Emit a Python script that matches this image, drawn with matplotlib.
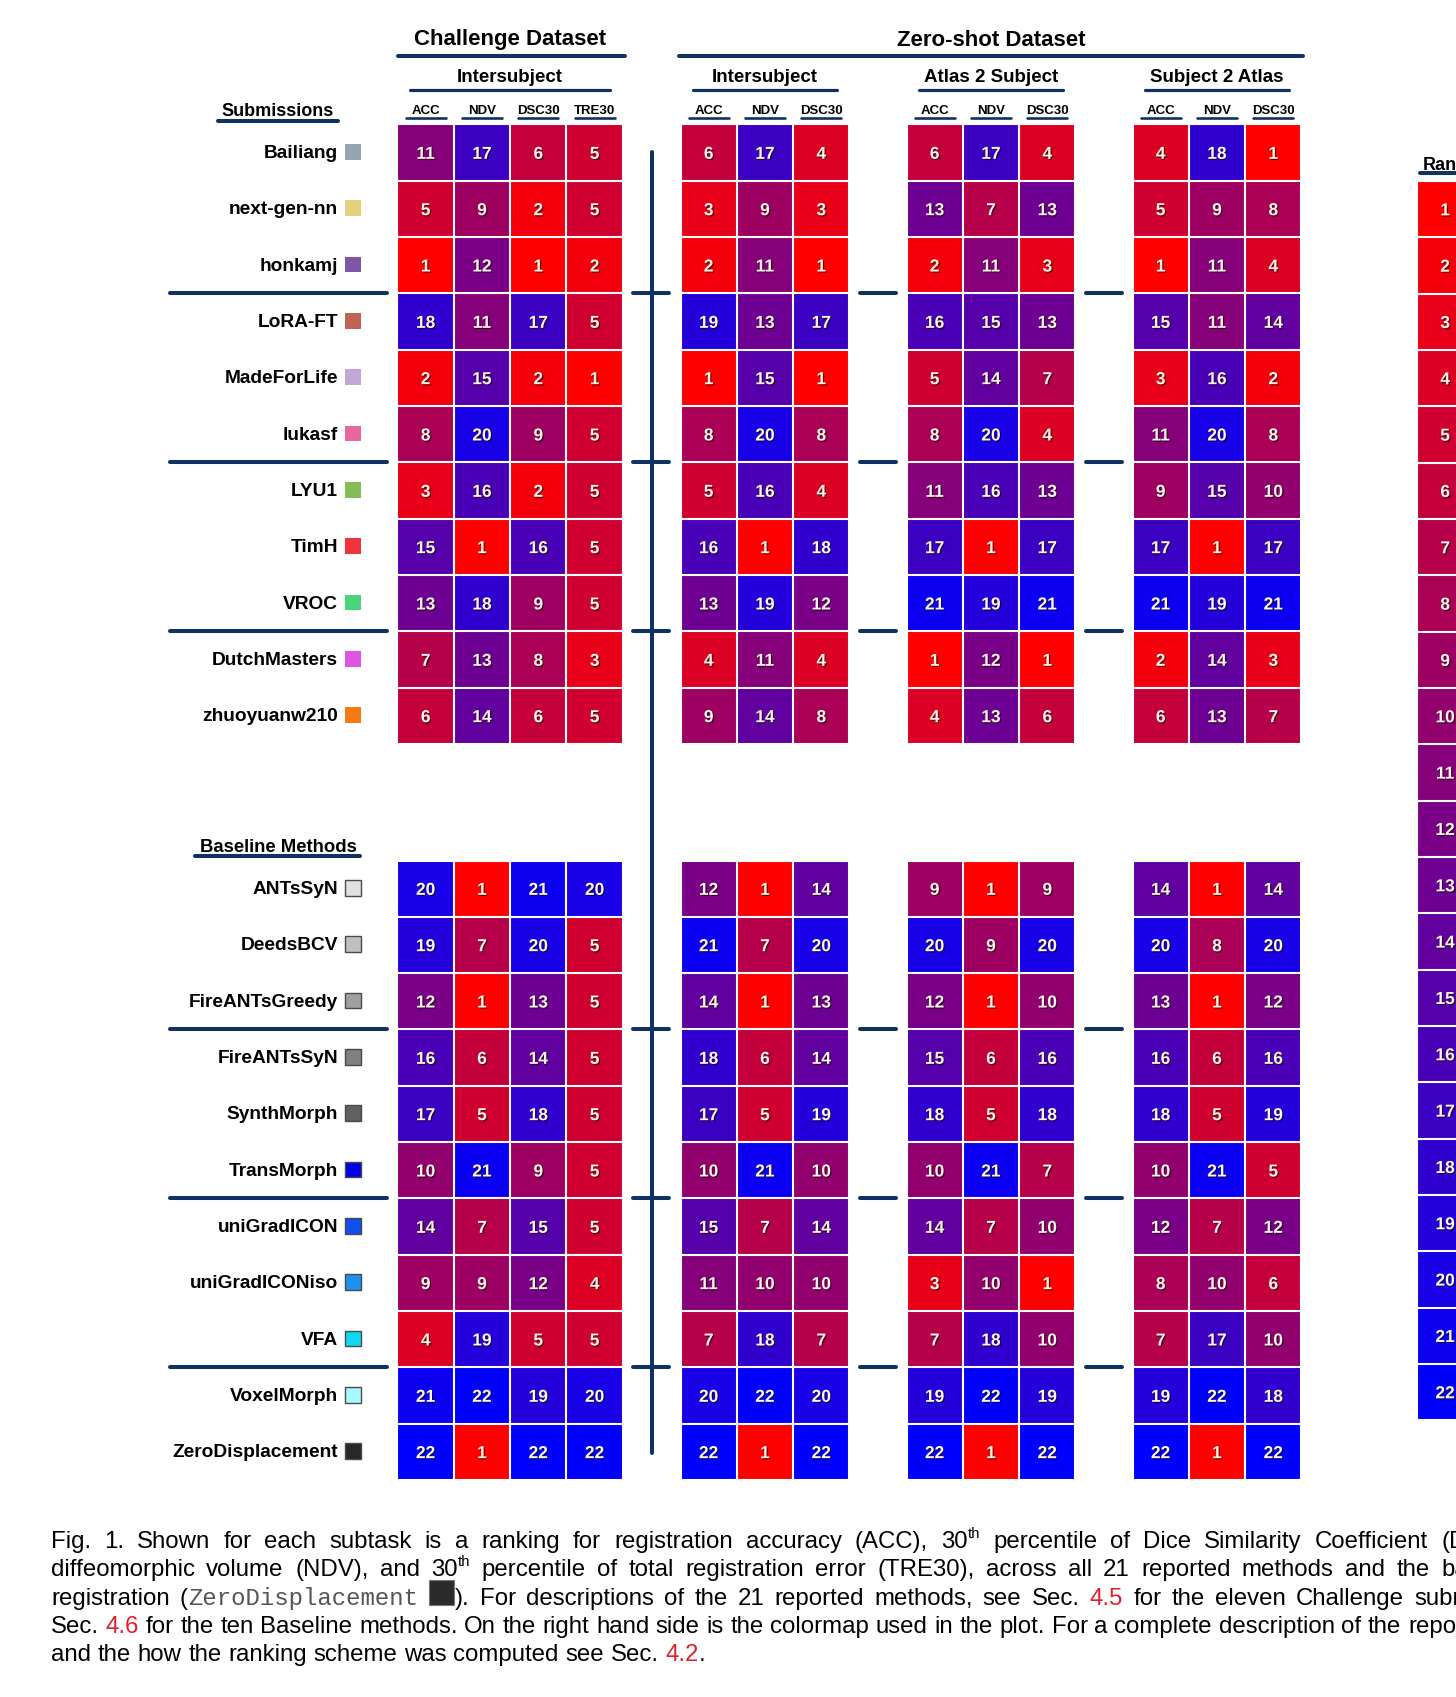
import re
import numpy as np
import matplotlib
matplotlib.use("Agg")
import matplotlib.pyplot as plt
import matplotlib.patheffects as pe
from matplotlib.colors import LinearSegmentedColormap
from matplotlib.patches import Rectangle

plt.rcParams['font.family'] = ['Liberation Sans', 'DejaVu Sans']

# ------------------------------------------------------------------
# data

submissions = ["Bailiang", "next-gen-nn", "honkamj", "LoRA-FT", "MadeForLife", "lukasf",
               "LYU1", "TimH", "VROC", "DutchMasters", "zhuoyuanw210"]
submission_colors = ["#93a6b0", "#e6d07e", "#7e57a4", "#be6450", "#c3a5d8", "#e8679f",
                     "#85bc55", "#ee3438", "#4bd37e", "#dd55e6", "#f77a12"]

baselines = ["ANTsSyN", "DeedsBCV", "FireANTsGreedy", "FireANTsSyN", "SynthMorph", "TransMorph",
             "uniGradICON", "uniGradICONiso", "VFA", "VoxelMorph", "ZeroDisplacement"]
baseline_colors = ["#e0e0e0", "#c0c0c0", "#a0a0a0", "#808080", "#606060", "#0000ee",
                   "#1050f0", "#1e90f0", "#10d8f0", "#a8f8ff", "#282828"]

challenge_metrics = ["ACC", "NDV", "DSC30", "TRE30"]
zeroshot_metrics = ["ACC", "NDV", "DSC30"]

# Challenge dataset, intersubject (ACC, NDV, DSC30, TRE30)
chal_sub = [[11, 17, 6, 5], [5, 9, 2, 5], [1, 12, 1, 2], [18, 11, 17, 5], [2, 15, 2, 1], [8, 20, 9, 5],
            [3, 16, 2, 5], [15, 1, 16, 5], [13, 18, 9, 5], [7, 13, 8, 3], [6, 14, 6, 5]]
chal_base = [[20, 1, 21, 20], [19, 7, 20, 5], [12, 1, 13, 5], [16, 6, 14, 5], [17, 5, 18, 5], [10, 21, 9, 5],
             [14, 7, 15, 5], [9, 9, 12, 4], [4, 19, 5, 5], [21, 22, 19, 20], [22, 1, 22, 22]]

# Zero-shot dataset, intersubject
zsi_sub = [[6, 17, 4], [3, 9, 3], [2, 11, 1], [19, 13, 17], [1, 15, 1], [8, 20, 8],
           [5, 16, 4], [16, 1, 18], [13, 19, 12], [4, 11, 4], [9, 14, 8]]
zsi_base = [[12, 1, 14], [21, 7, 20], [14, 1, 13], [18, 6, 14], [17, 5, 19], [10, 21, 10],
            [15, 7, 14], [11, 10, 10], [7, 18, 7], [20, 22, 20], [22, 1, 22]]

# Zero-shot dataset, atlas 2 subject
a2s_sub = [[6, 17, 4], [13, 7, 13], [2, 11, 3], [16, 15, 13], [5, 14, 7], [8, 20, 4],
           [11, 16, 13], [17, 1, 17], [21, 19, 21], [1, 12, 1], [4, 13, 6]]
a2s_base = [[9, 1, 9], [20, 9, 20], [12, 1, 10], [15, 6, 16], [18, 5, 18], [10, 21, 7],
            [14, 7, 10], [3, 10, 1], [7, 18, 10], [19, 22, 19], [22, 1, 22]]

# Zero-shot dataset, subject 2 atlas
s2a_sub = [[4, 18, 1], [5, 9, 8], [1, 11, 4], [15, 11, 14], [3, 16, 2], [11, 20, 8],
           [9, 15, 10], [17, 1, 17], [21, 19, 21], [2, 14, 3], [6, 13, 7]]
s2a_base = [[14, 1, 14], [20, 8, 20], [13, 1, 12], [16, 6, 16], [18, 5, 19], [10, 21, 5],
            [12, 7, 12], [8, 10, 6], [7, 17, 10], [19, 22, 18], [22, 1, 22]]

# colour legend on the right
rank_values = [1, 2, 3, 4, 5, 6, 7, 8, 9, 10, 11, 12, 13, 14, 15, 16, 17, 18, 19, 20, 21, 22]

caption_lines = [
    "Fig. 1. Shown for each subtask is a ranking for registration accuracy (ACC), 30^th percentile of "
    "Dice Similarity Coefficient (DSC30),",
    "diffeomorphic volume (NDV), and 30^th percentile of total registration error (TRE30), across all 21 "
    "reported methods and the baseline",
    "registration (~ZeroDisplacement~ ■). For descriptions of the 21 reported methods, see Sec. §4.5§ for "
    "the eleven Challenge submissions",
    "Sec. §4.6§ for the ten Baseline methods. On the right hand side is the colormap used in the plot. "
    "For a complete description of the reported",
    "and the how the ranking scheme was computed see Sec. §4.2§.",
]
caption_anchor = [("(DSC30),", 1441), ("baseline", 1441), ("submissions", 1414), ("reported", 1408), None]

# ------------------------------------------------------------------
# layout (pixels)

W, H = 1456, 1697
P = 56.33                      # cell pitch
SUB_TOP, BASE_TOP = 124.5, 860.5
CHAL_X, ZSI_X, A2S_X, S2A_X = 397.5, 680.5, 906.5, 1132.5
RANK_X, RANK_TOP = 1417, 181
NAVY = "#0f3262"
CELL_TXT = "#fff6e6"
LINE_W = 2.9

cmap = LinearSegmentedColormap.from_list("rank", ["#ff0000", "#0000ff"])

fig = plt.figure(figsize=(W / 100, H / 100), dpi=100)
bg = fig.add_axes([0, 0, 1, 1])
bg.set_xlim(0, W)
bg.set_ylim(H, 0)
bg.axis("off")

shadow = [pe.SimplePatchShadow(offset=(0.9, -0.9), shadow_rgbFace="black", alpha=0.55), pe.Normal()]


def heat(x0, y0, vals):
    vals = np.asarray(vals)
    nrow, ncol = vals.shape
    ax = fig.add_axes([x0 / W, 1 - (y0 + nrow * P) / H, ncol * P / W, nrow * P / H])
    ax.imshow(vals, cmap=cmap, vmin=1, vmax=22, aspect="auto", interpolation="nearest")
    for k in range(ncol + 1):
        ax.axvline(k - 0.5, color="white", lw=1.5, clip_on=False)
    for k in range(nrow + 1):
        ax.axhline(k - 0.5, color="white", lw=1.5, clip_on=False)
    for (i, j), v in np.ndenumerate(vals):
        ax.text(j, i + 0.03, str(v), ha="center", va="center", color=CELL_TXT,
                fontsize=12.5, fontweight="bold", path_effects=shadow)
    ax.set_axis_off()
    return ax


def hline(x1, x2, y, lw=LINE_W):
    bg.plot([x1, x2], [y, y], color=NAVY, lw=lw, solid_capstyle="round")


# heatmap blocks
blocks = [(CHAL_X, chal_sub, chal_base, challenge_metrics, "Intersubject"),
          (ZSI_X, zsi_sub, zsi_base, zeroshot_metrics, "Intersubject"),
          (A2S_X, a2s_sub, a2s_base, zeroshot_metrics, "Atlas 2 Subject"),
          (S2A_X, s2a_sub, s2a_base, zeroshot_metrics, "Subject 2 Atlas")]

for x0, sub, base, metrics, name in blocks:
    heat(x0, SUB_TOP, sub)
    heat(x0, BASE_TOP, base)
    ncol = len(metrics)
    cx = x0 + ncol * P / 2
    bg.text(cx, 77, name, ha="center", va="center", fontsize=13.5, fontweight="bold")
    hline(x0 + 12.5, x0 + ncol * P - 12.5, 90, lw=2.3)
    for j, m in enumerate(metrics):
        mx = x0 + (j + 0.5) * P
        bg.text(mx, 111, m, ha="center", va="center", fontsize=9.5, fontweight="bold")
        hline(mx - 20, mx + 20, 117.5, lw=1.9)

# dataset titles
bg.text(CHAL_X + 2 * P, 40, "Challenge Dataset", ha="center", va="center", fontsize=16, fontweight="bold")
hline(CHAL_X, CHAL_X + 4 * P + 2, 56)
bg.text((ZSI_X + S2A_X + 3 * P) / 2, 40, "Zero-shot Dataset", ha="center", va="center",
        fontsize=16, fontweight="bold")
hline(ZSI_X - 2, S2A_X + 3 * P + 2, 56)

# rank legend column
heat(RANK_X, RANK_TOP, np.array(rank_values)[:, None])
bg.text(RANK_X + P / 2, 165, "Rank", ha="center", va="center", fontsize=13, fontweight="bold")
hline(RANK_X + 3, RANK_X + P + 20, 173)

# group headings
bg.text(278, 112, "Submissions", ha="center", va="center", fontsize=13, fontweight="bold")
hline(218, 338, 121)
bg.text(278, 848, "Baseline Methods", ha="center", va="center", fontsize=13.3, fontweight="bold")
hline(195, 360, 856)

# row labels and colour swatches
for top, names, colors, edge in [(SUB_TOP, submissions, submission_colors, None),
                                  (BASE_TOP, baselines, baseline_colors, "#4a4a4a")]:
    for i, (nm, c) in enumerate(zip(names, colors)):
        cy = top + (i + 0.5) * P
        bg.text(338, cy + 1, nm, ha="right", va="center", fontsize=13.8, fontweight="bold")
        bg.add_patch(Rectangle((345, cy - 8.5), 16, 15.5, facecolor=c,
                               edgecolor=edge if edge else "none", lw=1.0))
    # separators every three rows
    for k in (3, 6, 9):
        y = top + k * P
        hline(170, 387, y)
        for x0, _, _, metrics, _ in blocks[:-1]:
            gx = x0 + len(metrics) * P + 28.5
            hline(gx - 18, gx + 18, y)

# vertical divider between challenge and zero-shot
bg.plot([652, 652], [SUB_TOP + 0.5 * P - 1, BASE_TOP + 10.5 * P + 1], color=NAVY, lw=LINE_W,
        solid_capstyle="round")

# ------------------------------------------------------------------
# caption, justified word by word

CAP_FS = 17.3
CAP_X0 = 51
renderer = fig.canvas.get_renderer()


def segments(word):
    out = []
    for part in re.split(r"(\^\w+|§[^§]+§|~[^~]+~|■)", word):
        if not part:
            continue
        if part.startswith("^"):
            out.append((part[1:], "s"))
        elif part.startswith("§"):
            out.append((part[1:-1], "r"))
        elif part.startswith("~"):
            out.append((part[1:-1], "m"))
        elif part == "■":
            out.append(("", "b"))
        else:
            out.append((part, "n"))
    return out


def make_seg(txt, kind):
    if kind == "b":
        box = Rectangle((0, 0), 25, 25, facecolor="#2b2b2b", edgecolor="#777777", lw=0.8)
        bg.add_patch(box)
        return box, 27
    kw = dict(fontsize=CAP_FS, color="black")
    if kind == "r":
        kw["color"] = "#e0202a"
    elif kind == "m":
        kw.update(color="#555555", family=["Liberation Mono", "DejaVu Sans Mono"])
    elif kind == "s":
        kw["fontsize"] = CAP_FS * 0.62
    t = bg.text(0, 0, txt, ha="left", va="baseline", **kw)
    return t, t.get_window_extent(renderer).width


space_w = 0.278 * CAP_FS * 100 / 72
for li, (line, anchor) in enumerate(zip(caption_lines, caption_anchor)):
    base_y = 1548 + li * 28.3
    words = line.split(" ")
    built = []
    for w in words:
        segs = [(make_seg(t, k), k) for t, k in segments(w)]
        built.append((w, segs, sum(s[0][1] for s in segs)))
    gap = space_w
    if anchor is not None:
        idx = words.index(anchor[0])
        gap = (anchor[1] - CAP_X0 - sum(b[2] for b in built[:idx])) / idx
    x = CAP_X0
    for w, segs, width in built:
        sx = x
        for (art, sw), kind in segs:
            if kind == "b":
                art.set_xy((sx + 1, base_y - 25))
            elif kind == "s":
                art.set_position((sx, base_y - 10))
            else:
                art.set_position((sx, base_y))
            sx += sw
        x += width + gap

fig.savefig("out.png", dpi=100)
